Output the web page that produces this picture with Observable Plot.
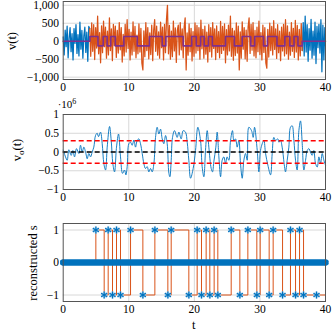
<!DOCTYPE html>
<html><head><meta charset="utf-8">
<script src="https://cdn.jsdelivr.net/npm/d3@7"></script>
<script src="https://cdn.jsdelivr.net/npm/@observablehq/plot@0.6"></script>
<style>
body{margin:0;background:#fff}
#c{position:relative;width:332px;height:332px;overflow:hidden;background:#fff}
#c svg{position:absolute;left:0;overflow:visible}
#c svg text{font-family:'Liberation Serif','DejaVu Serif',serif}
</style></head><body><div id="c"></div>
<script>
// ---------- data ----------
const xTicks = [0, 10, 20, 30, 40];
const y1Ticks = [-1000, -500, 0, 500, 1000];
const y2Ticks = [-1, -0.5, 0, 0.5, 1];
const y3Ticks = [-1, 0, 1];

// panel 1: received signal v(t), sample step 0.15
const dt = 0.15;
const noisePre = [120,-380,310,-150,420,-460,90,380,-290,210,-520,350,-60,460,-340,180,-410,530,-220,300,-470,150,390,-310,250,-560,410];
const noiseSig = [
 350,-420,510,-280,460,-510,380,-190,700,-350,
 240,-600,430,-320,560,-150,390,-470,280,-380,
 650,-260,340,-540,470,-120,420,-450,300,-330,
 520,-240,380,-580,190,-410,470,-300,600,-200,
 330,-520,250,-380,540,-280,410,-460,170,-350,
 480,-300,360,-610,-800,290,-430,520,-260,380,
 -490,230,-370,450,-540,310,600,-280,420,-390,
 260,-470,530,-180,390,-520,470,-320,610,1000,
 -350,440,-500,280,-430,560,-270,370,-590,300,
 450,-380,520,-240,340,-460,410,650,-800,230,
 -390,480,-290,360,-550,270,-420,510,-330,440,
 -260,380,-500,590,-210,330,-470,420,-360,250,
 -580,460,-290,380,-440,520,-200,340,-510,430,
 -310,270,-460,550,-340,410,-250,480,-600,320,
 -380,450,-270,700,-420,360,-530,290,-400,510,
 -330,420,-800,260,-470,540,-220,380,-490,310,
 -560,400,650,-340,470,-250,520,-410,300,-460,
 390,-290,560,-370,240,-520,450,-310,380,-600,
 -750,330,-440,500,-260,410,-380,570,-230,340,
 -480,460,-320,280,-540,390,-270,470,-410,600,
 -350,430,-500,250,-390,520,-280,360,-450,580,
 -300,440,-520,330,-410,490,-260];
const noisePost = [520,-410,700,-300,460,-560,350,-250,610,-470,280,-390,530,-620,410,-180,470,-330,600,-850,450,-520,380,-300];
const sigStart = 4.05, postStart = 36.6;

// transmitted symbols (purple step), scaled
const symT = [0,4.07,5.3,6.1,6.7,7.25,7.95,9.25,11.3,13.15,15.1,15.65,18.3,19.6,20.3,20.95,21.5,22.15,22.75,24.75,26.1,27.3,28.6,29.2,30.55,31.15,32.6,33.8,34.55,35.2,35.8,36.44,40];
const symV = [0,1,-1,1,-1,1,-1,1,-1,1,-1,1,-1,1,-1,1,-1,1,-1,1,-1,1,-1,1,-1,1,-1,1,-1,1,-1,0,0];
const symAmp = 130;

// panel 2: filter output v_o(t) in units of 1e6
const voT = [
 0,0.1,0.35,0.61,0.86,1.22,1.47,1.73,2.03,2.39,
 2.64,2.9,3.15,3.46,3.66,3.91,4.17,4.42,4.67,4.93,
 5.18,5.39,5.69,5.95,6.2,6.46,6.71,7.07,7.32,7.57,
 7.83,8.13,8.44,8.74,9.05,9.35,9.56,9.76,10.01,10.27,
 10.52,10.78,11.03,11.29,11.54,11.79,12.05,12.3,12.55,12.81,
 13.06,13.32,13.57,13.83,14.08,14.33,14.59,14.84,15.1,15.35,
 15.61,15.86,16.12,16.27,16.47,16.67,16.98,17.38,17.64,17.99,
 18.3,18.65,18.91,19.16,19.42,19.82,20.18,20.53,20.94,21.19,
 21.45,21.7,21.96,22.21,22.57,22.77,22.97,23.28,23.48,23.74,
 24.0,24.24,24.5,24.75,25.0,25.26,25.52,25.82,26.03,26.28,
 26.53,26.79,27.04,27.3,27.55,27.81,28.06,28.31,28.72,28.97,
 29.18,29.59,29.84,30.09,30.35,30.6,30.86,31.21,31.62,31.87,
 32.12,32.38,32.73,32.89,33.14,33.39,33.75,33.9,34.16,34.41,
 34.66,34.92,35.18,35.43,35.68,35.94,36.19,36.45,36.7,36.96,
 37.21,37.46,37.71,37.97,38.22,38.48,38.74,38.99,39.24,39.5,
 39.75,40];
const vo = [
 0.05,0,-0.13,-0.22,0.06,-0.09,0.04,-0.13,0.09,-0.04,
 0.18,0,0.13,-0.04,-0.18,-0.04,-0.13,0,0.13,0.44,
 0.5,0.41,0.53,0.22,-0.31,-0.48,0.13,0.68,0.31,-0.31,
 -0.53,0.13,0.48,-0.13,-0.57,-0.48,-0.61,-0.39,0.22,0.26,
 0.18,0.32,0.13,0.31,0.35,0.22,-0.04,-0.31,-0.44,-0.39,
 -0.53,-0.44,-0.53,-0.31,0.39,0.66,0.48,0.61,0.35,0.22,
 0.44,0.22,-0.57,-0.66,-0.22,0.39,0.57,0.39,0.53,0.35,
 0.57,0.53,0.26,-0.22,-0.7,-0.44,0.04,0.66,0.31,-0.39,
 -0.66,0.04,0.57,0.13,-0.44,-0.53,-0.26,0.13,0.53,-0.13,
 -0.66,-0.22,-0.13,-0.31,-0.13,-0.22,0.31,0.57,0.31,0.35,
 0.13,0.31,-0.31,-0.7,-0.22,-0.04,-0.22,0.66,0.57,0.39,
 0.66,0.04,-0.53,0.04,0.22,0.31,-0.04,-0.35,-0.61,-0.04,
 0.39,0.31,0.35,0.26,0.31,0.13,-0.39,-0.53,-0.22,0.13,
 0.66,0.7,0.31,-0.22,-0.48,0.57,0.83,0.22,-0.48,-0.22,
 0.04,0.09,0,-0.09,0.04,-0.31,-0.4,-0.13,-0.31,-0.04,
 -0.22,-0.35];
const threshold = 0.3;

// panel 3: reconstructed s (decisions)
const decT = [4.98,6.25,6.86,7.52,8.13,8.74,10.27,12.15,13.98,15.96,16.47,19.16,20.43,21.09,21.80,22.36,23.02,23.58,25.62,26.94,28.16,29.53,30.04,31.41,32.02,33.45,34.66,35.43,36.04,36.65,38.63];
const decV = [1,-1,1,-1,1,-1,1,-1,1,-1,1,-1,1,-1,1,-1,1,-1,1,-1,1,-1,1,-1,1,-1,1,-1,1,-1,-1];
const zeroT = [0, 40];
const zeroS = [0, 0];

// ---------- tables ----------
const pre = noisePre.map((v, i) => ({t: i * dt, v}));
const sig = noiseSig.map((v, i) => ({t: sigStart + i * dt, v}));
const post = noisePost.map((v, i) => ({t: postStart + i * dt, v}));
pre.push(sig[0]);
post.unshift(sig[sig.length - 1]);
const sym = symT.map((t, i) => ({t, v: symV[i] * symAmp}));
const voData = voT.map((t, i) => ({t, v: vo[i]}));
const dec = decT.map((t, i) => ({t, s: decV[i]}));
const held = [{t: 0, s: 0}, ...dec, {t: 40, s: decV[decV.length - 1]}];
const zero = zeroT.map((t, i) => ({t, s: zeroS[i]}));

const fmt = d3.format(",");
const BLUE = "#0072BD", ORANGE = "#D95319", PURPLE = "#7E2F8E";
const FONT = "'Liberation Serif', 'DejaVu Serif', serif";

function panel({height, mt, mb, yDomain, yTicks, marks, top}) {
  const svg = Plot.plot({
    width: 332, height,
    marginLeft: 62.7, marginRight: 7, marginTop: mt, marginBottom: mb,
    style: {fontFamily: FONT, fontSize: "11.5px", background: "transparent", color: "#000"},
    x: {domain: [0, 40], ticks: xTicks, tickSize: 0, tickPadding: 3.8, label: null, tickFormat: fmt},
    y: {domain: yDomain, ticks: yTicks, tickSize: 0, tickPadding: 4.2, label: null, tickFormat: fmt},
    marks: [
      Plot.ruleX(xTicks.slice(1, -1), {stroke: "#d8d8d8", strokeWidth: 1}),
      Plot.ruleY(yTicks, {stroke: "#d8d8d8", strokeWidth: 1}),
      ...marks,
      Plot.frame({stroke: "#555", strokeWidth: 1})
    ]
  });
  svg.style.top = top + "px";
  return svg;
}

const c = document.getElementById("c");

const s1 = panel({
  height: 100, mt: 1, mb: 21, top: 0, yDomain: [-1065, 1105], yTicks: y1Ticks,
  marks: [
    Plot.line(pre, {x: "t", y: "v", stroke: BLUE, strokeWidth: 1.25}),
    Plot.line(post, {x: "t", y: "v", stroke: BLUE, strokeWidth: 1.25, clip: true}),
    Plot.line(sig, {x: "t", y: "v", stroke: ORANGE, strokeWidth: 1.25}),
    Plot.line(sym, {x: "t", y: "v", stroke: PURPLE, strokeWidth: 1.6, curve: "step-after"})
  ]
});
const s2 = panel({
  height: 114, mt: 18, mb: 21, top: 96, yDomain: [-1, 1], yTicks: y2Ticks,
  marks: [
    Plot.line(voData, {x: "t", y: "v", stroke: BLUE, strokeWidth: 0.9, curve: "catmull-rom"}),
    Plot.ruleY([threshold, -threshold], {stroke: "#ff0000", strokeWidth: 1.3, strokeDasharray: "5,3"}),
    Plot.ruleY([0], {stroke: "#000", strokeWidth: 1.6, strokeDasharray: "5,3"})
  ]
});
const s3 = panel({
  height: 122, mt: 13, mb: 31, top: 210, yDomain: [-1.2, 1.2], yTicks: y3Ticks,
  marks: [
    Plot.line(held, {x: "t", y: "s", stroke: ORANGE, strokeWidth: 1, curve: "step-after"}),
    Plot.line(zero, {x: "t", y: "s", stroke: BLUE, strokeWidth: 6.3}),
    Plot.dot(zero, {x: "t", y: "s", symbol: "asterisk", r: 3.1, stroke: BLUE, strokeWidth: 1.3}),
    Plot.dot(dec, {x: "t", y: "s", symbol: "asterisk", r: 3.3, stroke: "#9cc9ea", strokeWidth: 2.2}),
    Plot.dot(dec, {x: "t", y: "s", symbol: "asterisk", r: 3.3, stroke: BLUE, strokeWidth: 1.1})
  ]
});
c.append(s1, s2, s3);

// ---------- labels ----------
function ylabel(svg, x, y) {
  return d3.select(svg).append("text")
    .attr("transform", `translate(${x},${y}) rotate(-90)`)
    .attr("text-anchor", "middle")
    .attr("font-family", FONT).attr("font-size", 12.5).attr("fill", "#000");
}
ylabel(s1, 16, 41).text("v(t)");
const l2 = ylabel(s2, 21, 54);
l2.append("tspan").text("v");
l2.append("tspan").attr("dy", 3).attr("font-size", 9).text("o");
l2.append("tspan").attr("dy", -3).text("(t)");
ylabel(s3, 37, 53).text("reconstructed s");

const e = d3.select(s2).append("text").attr("x", 67).attr("y", 12)
  .attr("font-family", FONT).attr("font-size", 11).attr("fill", "#000");
e.append("tspan").text("·10");
e.append("tspan").attr("dy", -4.5).attr("font-size", 8).text("6");

d3.select(s3).append("text").attr("x", 193.8).attr("y", 118.5)
  .attr("text-anchor", "middle").attr("font-family", FONT).attr("font-size", 12.5)
  .attr("fill", "#000").text("t");
</script>
</body></html>
